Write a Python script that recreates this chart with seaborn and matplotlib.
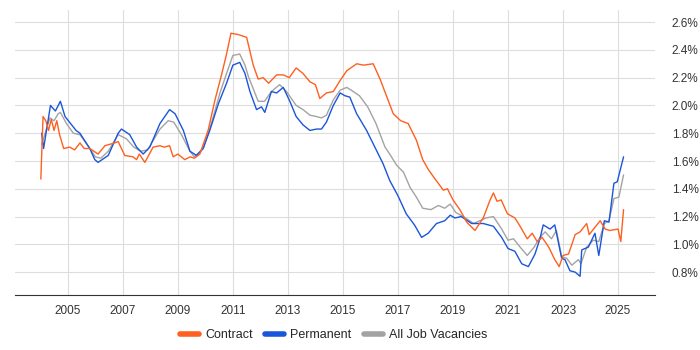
import matplotlib
matplotlib.use("Agg")
import matplotlib.pyplot as plt
import matplotlib.ticker as mticker
import pandas as pd
import seaborn as sns

# Contract
contract_dates = [2004.02, 2004.1, 2004.2, 2004.3, 2004.4, 2004.5, 2004.6, 2004.7, 2004.85,
                  2005.07, 2005.25, 2005.44, 2005.6, 2005.8, 2006.1, 2006.35, 2006.7, 2006.83,
                  2007.07, 2007.37, 2007.5, 2007.6, 2007.8, 2008.1, 2008.35, 2008.5, 2008.7,
                  2008.83, 2009.0, 2009.25, 2009.45, 2009.6, 2009.8, 2010.1, 2010.35, 2010.6,
                  2010.77, 2010.93, 2011.2, 2011.5, 2011.62, 2011.74, 2011.92, 2012.1, 2012.3,
                  2012.59, 2012.83, 2013.05, 2013.3, 2013.55, 2013.8, 2014.0, 2014.16, 2014.4,
                  2014.65, 2014.9, 2015.14, 2015.5, 2015.75, 2016.1, 2016.35, 2016.6, 2016.83,
                  2017.1, 2017.37, 2017.67, 2017.9, 2018.1, 2018.35, 2018.65, 2018.8, 2019.0,
                  2019.25, 2019.5, 2019.8, 2020.1, 2020.35, 2020.47, 2020.6, 2020.75, 2020.98,
                  2021.25, 2021.44, 2021.7, 2021.88, 2022.06, 2022.24, 2022.48, 2022.7, 2022.86,
                  2023.0, 2023.2, 2023.44, 2023.62, 2023.86, 2023.95, 2024.35, 2024.53, 2024.7,
                  2025.0, 2025.1, 2025.2]
contract_vals = [1.47, 1.92, 1.89, 1.82, 1.90, 1.82, 1.89, 1.79, 1.69,
                 1.70, 1.68, 1.73, 1.69, 1.69, 1.65, 1.71, 1.73, 1.74,
                 1.64, 1.63, 1.61, 1.65, 1.59, 1.70, 1.71, 1.70, 1.71,
                 1.63, 1.65, 1.61, 1.63, 1.62, 1.65, 1.82, 2.04, 2.23,
                 2.37, 2.52, 2.51, 2.49, 2.39, 2.29, 2.19, 2.20, 2.16,
                 2.22, 2.22, 2.20, 2.27, 2.23, 2.17, 2.15, 2.05, 2.09,
                 2.10, 2.18, 2.25, 2.30, 2.29, 2.30, 2.19, 2.06, 1.94,
                 1.89, 1.87, 1.75, 1.61, 1.54, 1.47, 1.39, 1.40, 1.32,
                 1.25, 1.16, 1.10, 1.19, 1.32, 1.37, 1.31, 1.32, 1.22,
                 1.19, 1.13, 1.04, 1.08, 1.02, 1.05, 0.98, 0.89, 0.84,
                 0.92, 0.93, 1.07, 1.09, 1.15, 1.07, 1.17, 1.11, 1.10,
                 1.11, 1.02, 1.25]

# Permanent
perm_dates = [2004.05, 2004.12, 2004.37, 2004.55, 2004.73, 2004.9, 2005.3, 2005.44, 2005.8,
              2005.98, 2006.1, 2006.47, 2006.83, 2006.95, 2007.25, 2007.5, 2007.74, 2007.98,
              2008.35, 2008.7, 2008.9, 2009.2, 2009.44, 2009.68, 2009.92, 2010.16, 2010.47,
              2010.77, 2011.0, 2011.25, 2011.44, 2011.62, 2011.86, 2012.04, 2012.16, 2012.4,
              2012.59, 2012.83, 2013.07, 2013.3, 2013.55, 2013.8, 2014.04, 2014.22, 2014.4,
              2014.65, 2014.9, 2015.07, 2015.25, 2015.5, 2015.86, 2016.16, 2016.46, 2016.7,
              2017.0, 2017.3, 2017.6, 2017.86, 2018.1, 2018.4, 2018.7, 2018.9, 2019.07,
              2019.3, 2019.68, 2020.1, 2020.47, 2020.77, 2021.0, 2021.25, 2021.5, 2021.74,
              2021.98, 2022.16, 2022.28, 2022.53, 2022.7, 2022.95, 2023.07, 2023.25, 2023.44,
              2023.62, 2023.68, 2023.92, 2024.16, 2024.3, 2024.5, 2024.67, 2024.85, 2024.97,
              2025.2]
perm_vals = [1.80, 1.69, 2.00, 1.96, 2.03, 1.92, 1.82, 1.80, 1.69,
             1.61, 1.59, 1.64, 1.80, 1.83, 1.79, 1.70, 1.65, 1.70,
             1.87, 1.97, 1.94, 1.82, 1.67, 1.64, 1.69, 1.82, 2.01,
             2.16, 2.29, 2.31, 2.23, 2.10, 1.97, 1.99, 1.95, 2.10,
             2.09, 2.13, 2.03, 1.92, 1.86, 1.82, 1.83, 1.83, 1.88,
             2.00, 2.09, 2.07, 2.06, 1.94, 1.82, 1.70, 1.58, 1.46,
             1.35, 1.22, 1.14, 1.05, 1.08, 1.15, 1.17, 1.21, 1.19,
             1.20, 1.15, 1.15, 1.13, 1.05, 0.97, 0.95, 0.86, 0.84,
             0.93, 1.04, 1.14, 1.11, 1.14, 0.90, 0.89, 0.81, 0.80,
             0.77, 0.96, 0.98, 1.08, 0.92, 1.17, 1.16, 1.44, 1.45,
             1.63]

# All Job Vacancies
all_dates = [2004.05, 2004.35, 2004.5, 2004.65, 2004.73, 2004.95, 2005.2, 2005.44, 2005.8,
             2006.0, 2006.2, 2006.47, 2006.83, 2007.13, 2007.4, 2007.65, 2007.9, 2008.35,
             2008.65, 2008.85, 2009.13, 2009.44, 2009.6, 2009.92, 2010.22, 2010.53, 2010.77,
             2011.0, 2011.25, 2011.44, 2011.56, 2011.74, 2011.92, 2012.15, 2012.4, 2012.7,
             2012.95, 2013.3, 2013.55, 2013.8, 2014.04, 2014.22, 2014.4, 2014.65, 2014.9,
             2015.14, 2015.3, 2015.6, 2015.9, 2016.2, 2016.53, 2016.7, 2016.95, 2017.2,
             2017.44, 2017.67, 2017.9, 2018.2, 2018.47, 2018.7, 2018.9, 2019.1, 2019.45,
             2019.75, 2020.2, 2020.47, 2020.77, 2021.0, 2021.2, 2021.44, 2021.7, 2021.95,
             2022.16, 2022.35, 2022.58, 2022.76, 2022.95, 2023.13, 2023.32, 2023.56, 2023.65,
             2023.86, 2024.1, 2024.3, 2024.5, 2024.67, 2024.85, 2025.03, 2025.2]
all_vals = [1.72, 1.91, 1.89, 1.94, 1.95, 1.87, 1.80, 1.79, 1.69,
            1.63, 1.62, 1.67, 1.79, 1.76, 1.70, 1.67, 1.68, 1.83,
            1.89, 1.88, 1.79, 1.67, 1.63, 1.69, 1.87, 2.09, 2.23,
            2.36, 2.37, 2.29, 2.21, 2.12, 2.03, 2.03, 2.10, 2.15,
            2.10, 2.00, 1.97, 1.93, 1.92, 1.91, 1.93, 2.04, 2.11,
            2.13, 2.11, 2.07, 1.99, 1.87, 1.70, 1.65, 1.57, 1.52,
            1.41, 1.34, 1.26, 1.25, 1.28, 1.26, 1.29, 1.23, 1.19,
            1.15, 1.19, 1.20, 1.11, 1.03, 1.04, 0.98, 0.92, 0.98,
            1.05, 1.09, 1.04, 1.10, 0.91, 0.90, 0.85, 0.89, 0.86,
            0.98, 1.03, 1.02, 1.15, 1.17, 1.33, 1.34, 1.50]

year_ticks = [2005, 2007, 2009, 2011, 2013, 2015, 2017, 2019, 2021, 2023, 2025]
pct_ticks = [0.8, 1.0, 1.2, 1.4, 1.6, 1.8, 2.0, 2.2, 2.4, 2.6]

df = pd.concat([
    pd.DataFrame({"date": contract_dates, "value": contract_vals, "series": "Contract"}),
    pd.DataFrame({"date": perm_dates, "value": perm_vals, "series": "Permanent"}),
    pd.DataFrame({"date": all_dates, "value": all_vals, "series": "All Job Vacancies"}),
])

sns.set_style("white")
plt.rcParams["font.family"] = ["Liberation Sans", "DejaVu Sans"]

palette = {"Contract": "#ff5f1f", "Permanent": "#1a56db", "All Job Vacancies": "#a3a3a3"}

fig = plt.figure(figsize=(7, 3.5), dpi=100)
ax = fig.add_axes([0.021, 0.157, 0.915, 0.814])

# grey drawn first so it sits underneath
for name in ["All Job Vacancies", "Permanent", "Contract"]:
    sub = df[df["series"] == name]
    sns.lineplot(data=sub, x="date", y="value", color=palette[name], lw=1.0,
                 ax=ax, sort=False, estimator=None, zorder=3 if name != "All Job Vacancies" else 2)

ax.set_xlim(2003.07, 2026.35)
ax.set_ylim(0.635, 2.686)
ax.set_xticks(year_ticks)
ax.set_yticks(pct_ticks)
ax.yaxis.set_major_formatter(mticker.FuncFormatter(lambda v, p: f"{v:.1f}%"))
ax.yaxis.tick_right()
ax.set_xlabel("")
ax.set_ylabel("")
ax.grid(True, color="#dddddd", lw=0.8)
ax.set_axisbelow(True)
for side in ["left", "right", "top"]:
    ax.spines[side].set_visible(False)
ax.spines["bottom"].set_color("#333333")
ax.tick_params(axis="x", length=4, color="#333333", labelsize=8.5, labelcolor="#333333", pad=3)
ax.tick_params(axis="y", length=0, labelsize=8.5, labelcolor="#333333", pad=12)

handles = [plt.Line2D([], [], color=palette[n], lw=4) for n in ["Contract", "Permanent", "All Job Vacancies"]]
fig.legend(handles, ["Contract", "Permanent", "All Job Vacancies"], loc="center",
           bbox_to_anchor=(0.477, 0.043), ncol=3, frameon=False, fontsize=9,
           handlelength=1.5, handletextpad=0.5, columnspacing=1.0)

fig.savefig("out.png", dpi=100)
